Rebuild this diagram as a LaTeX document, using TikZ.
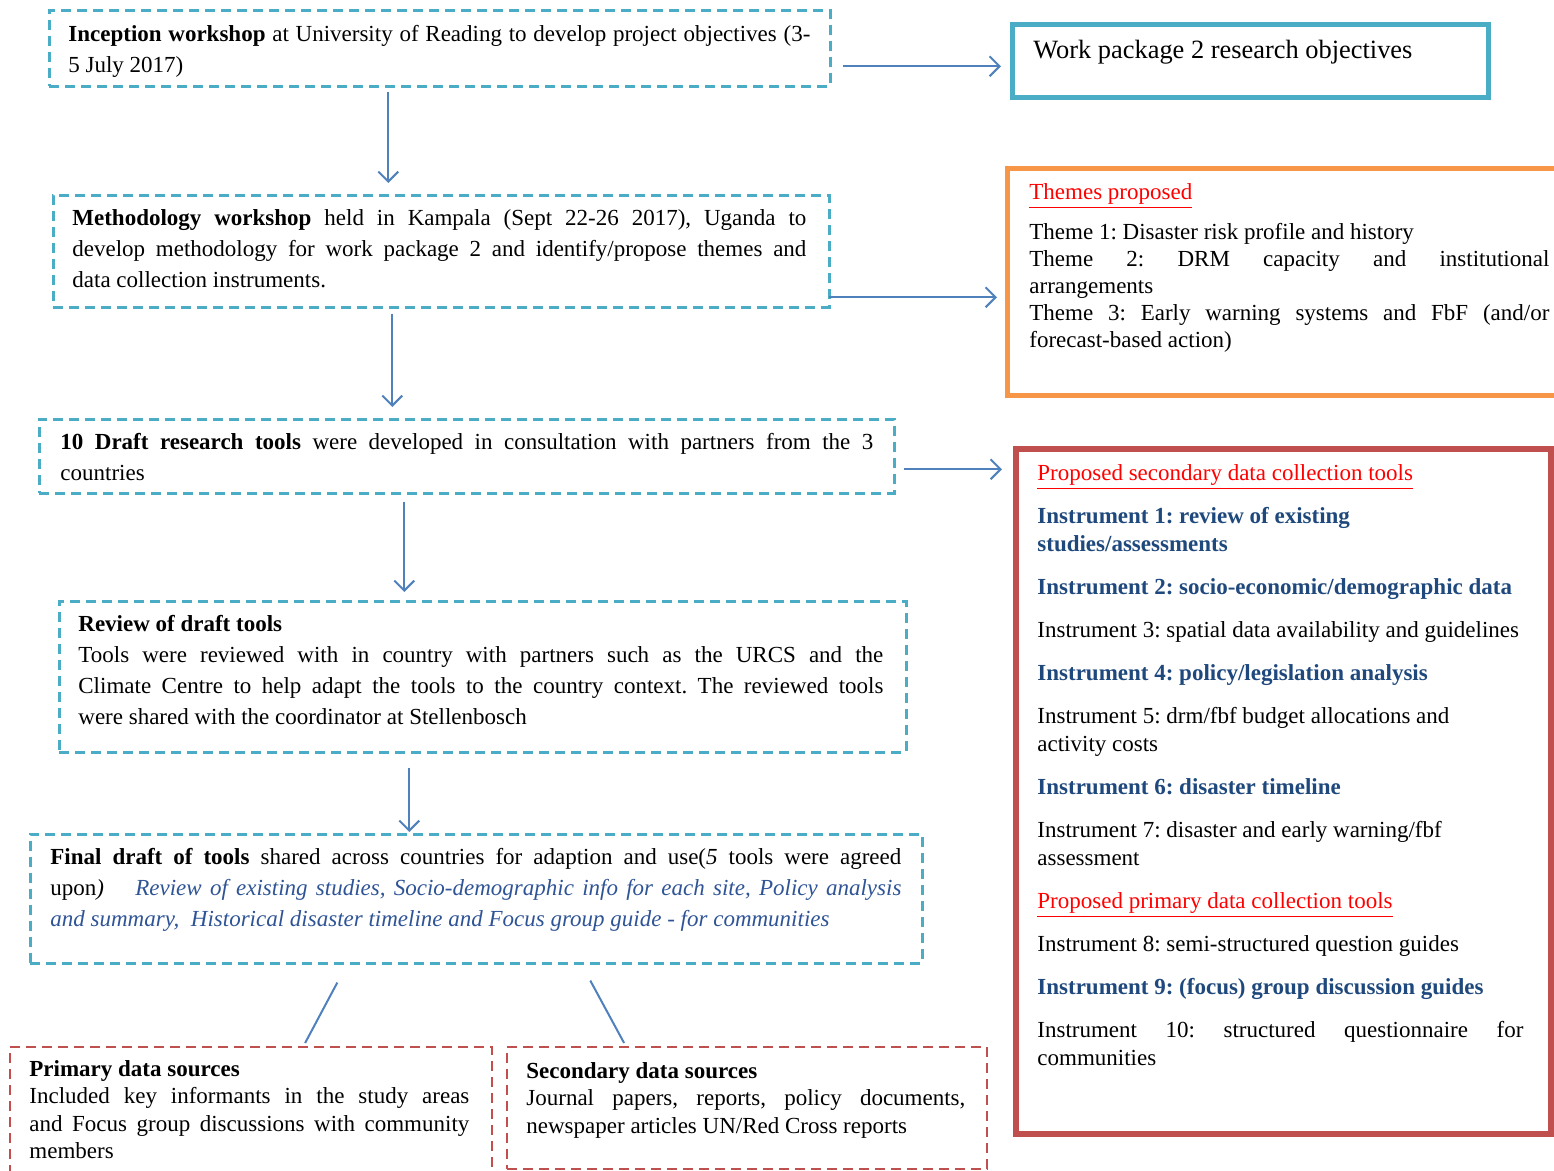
\documentclass[tikz,border=0pt]{standalone}
\usepackage{fontspec}
\setmainfont{Liberation Serif}
\usetikzlibrary{arrows.meta}
\definecolor{cyanb}{HTML}{4BACC6}
\definecolor{arrb}{HTML}{4F81BD}
\definecolor{redd}{HTML}{C0504D}
\definecolor{orng}{HTML}{F79646}
\definecolor{hred}{HTML}{FF0000}
\definecolor{dblue}{HTML}{1F497D}
\definecolor{iblue}{HTML}{2F5496}
\frenchspacing
\begin{document}
\begin{tikzpicture}[x=0.5pt,y=-0.5pt,
 dbox/.style={draw=cyanb, line width=1.3pt, dash pattern=on 5pt off 3pt, inner sep=0, anchor=north west},
 rbox/.style={draw=redd, line width=1.1pt, dash pattern=on 5pt off 3pt, inner sep=0, anchor=north west},
 fbox/.style={line width=2.5pt, inner sep=0, anchor=north west},
 txt/.style={inner sep=0, anchor=base west, align=justify, font=\fontsize{11.5}{15.5}\selectfont\frenchspacing},
 arr/.style={draw=arrb, line width=1pt, -{Straight Barb[length=5pt,width=10pt]}},
 ln/.style={draw=arrb, line width=1pt}]
\clip (0,0) rectangle (1554,1171);

% left column boxes
\node[dbox, minimum width=390.5pt, minimum height=38pt] (inc) at (48,9) {};
\node[txt, text width=371pt] (incT) at (68,42) {\textbf{Inception workshop} at University of Reading to develop project objectives (3-\linebreak 5 July 2017)};

\node[dbox, minimum width=388pt, minimum height=56pt] (meth) at (52,194) {};
\node[txt, text width=367pt] (methT) at (72,226) {\textbf{Methodology workshop} held in Kampala (Sept 22-26 2017), Uganda to\linebreak develop methodology for work package 2 and identify/propose themes and\linebreak data collection instruments.};

\node[dbox, minimum width=427.5pt, minimum height=37pt] (draft) at (38,418) {};
\node[txt, text width=406.5pt] (draftT) at (60,450) {\textbf{10 Draft research tools} were developed in consultation with partners from the 3\linebreak countries};

\node[dbox, minimum width=423.5pt, minimum height=75.5pt] (review) at (58,600) {};
\node[txt, text width=402.5pt] (reviewT) at (78,632) {\textbf{Review of draft tools}\\ Tools were reviewed with in country with partners such as the URCS and the\linebreak Climate Centre to help adapt the tools to the country context. The reviewed tools\linebreak were shared with the coordinator at Stellenbosch};

\node[dbox, minimum width=446pt, minimum height=64.5pt] (final) at (29,833) {};
\node[txt, text width=425.5pt] (finalT) at (50,864) {\textbf{Final draft of tools} shared across countries for adaption and use(\textit{5} tools were agreed\linebreak upon\textit{)}\quad\ {\itshape\color{iblue}Review of existing studies, Socio-demographic info for each site, Policy analysis\linebreak and summary,\ \ Historical disaster timeline and Focus group guide - for communities}};

\node[rbox, minimum width=241pt, minimum height=67pt] (prim) at (9,1046) {};
\node[txt, text width=220pt, font=\fontsize{11.5}{13.75}\selectfont] (primT) at (29,1076) {\textbf{Primary data sources}\\ Included key informants in the study areas\linebreak and Focus group discussions with community\linebreak members};

\node[rbox, minimum width=240pt, minimum height=61pt] (secsrc) at (506,1046) {};
\node[txt, text width=219.5pt, font=\fontsize{11.5}{13.75}\selectfont] (secsrcT) at (526,1078) {\textbf{Secondary data sources}\\ Journal papers, reports, policy documents,\linebreak newspaper articles UN/Red Cross reports};

% right column boxes
\node[fbox, draw=cyanb, minimum width=238pt, minimum height=36.5pt] (wp2) at (1010,22) {};
\node[inner sep=0, anchor=base west, font=\fontsize{13.2}{15}\selectfont] (wp2T) at (1033,59) {Work package 2 research objectives};

\node[fbox, draw=orng, minimum width=282pt, minimum height=113.5pt] (themes) at (1005,166) {};
\node[txt, text width=260pt, font=\fontsize{11.5}{13.5}\selectfont] (themesT) at (1029,200) {\textcolor{hred}{\underline{Themes proposed}}\par\vspace{6.5pt}Theme 1: Disaster risk profile and history\\ Theme 2: DRM capacity and institutional\linebreak arrangements\\ Theme 3: Early warning systems and FbF (and/or\linebreak forecast-based action)};

\node[fbox, draw=redd, line width=3pt, minimum width=267.5pt, minimum height=342.5pt] (sect) at (1013,446) {};
\node[txt, text width=243pt, font=\fontsize{11.5}{14}\selectfont] (sectT) at (1037,481) {\setlength{\parskip}{7.5pt}%
\textcolor{hred}{\underline{Proposed secondary data collection tools}}\par
{\color{dblue}\bfseries Instrument 1: review of existing\\ studies/assessments\par}
{\color{dblue}\bfseries Instrument 2: socio-economic/demographic data\par}
Instrument 3: spatial data availability and guidelines\par
{\color{dblue}\bfseries Instrument 4: policy/legislation analysis\par}
Instrument 5: drm/fbf budget allocations and\\ activity costs\par
{\color{dblue}\bfseries Instrument 6: disaster timeline\par}
Instrument 7: disaster and early warning/fbf\\ assessment\par
\textcolor{hred}{\underline{Proposed primary data collection tools}}\par
Instrument 8: semi-structured question guides\par
{\color{dblue}\bfseries Instrument 9: (focus) group discussion guides\par}
Instrument 10: structured questionnaire for\linebreak communities};

% connectors
\coordinate (a1s) at ([xshift=5.5pt,yshift=-9pt]inc.east);
\draw[arr, shorten >=4.5pt] (a1s) -- (a1s -| wp2.west);
\coordinate (a2s) at ([xshift=-25.75pt,yshift=-2pt]inc.south);
\draw[arr, shorten >=5.5pt] (a2s) -- (a2s |- meth.north);
\coordinate (a3s) at ([xshift=-1pt,yshift=-23pt]meth.east);
\draw[arr, shorten >=4pt] (a3s) -- (a3s -| themes.west);
\coordinate (a4s) at ([xshift=-24.5pt,yshift=-2.5pt]meth.south);
\draw[arr, shorten >=5.5pt] (a4s) -- (a4s |- draft.north);
\coordinate (a5s) at ([xshift=4pt,yshift=-6.5pt]draft.east);
\draw[arr, shorten >=5.5pt] (a5s) -- (a5s -| sect.west);
\coordinate (a6s) at ([xshift=-31.25pt,yshift=-3.5pt]draft.south);
\draw[arr, shorten >=4pt] (a6s) -- (a6s |- review.north);
\coordinate (a7s) at ([xshift=-36.75pt,yshift=-7pt]review.south);
\draw[arr, shorten >=0.5pt] (a7s) -- (a7s |- final.north);
\draw[ln] ([xshift=-69.5pt,yshift=-9pt]final.south) -- ([xshift=27pt,yshift=1.5pt]prim.north);
\draw[ln] ([xshift=57pt,yshift=-8pt]final.south) -- ([xshift=-61.5pt,yshift=1.5pt]secsrc.north);
\end{tikzpicture}
\end{document}
